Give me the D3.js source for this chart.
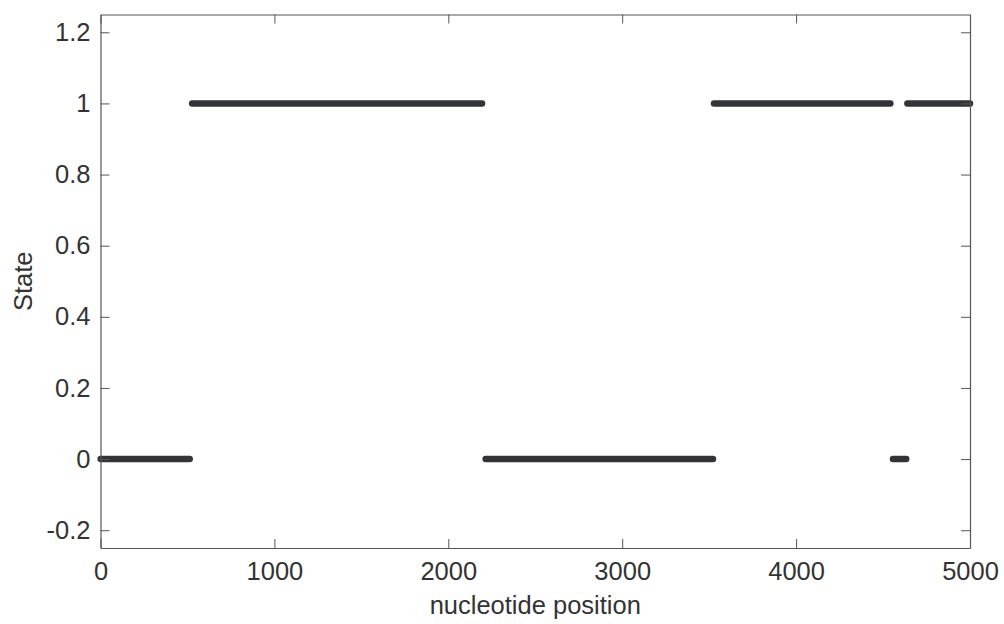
<!DOCTYPE html>
<html>
<head>
<meta charset="utf-8">
<script src="https://cdn.jsdelivr.net/npm/d3@7"></script>
<style>
  html, body { margin: 0; padding: 0; background: #ffffff; }
  svg { display: block; }
  text { font-family: "Liberation Sans", Arial, sans-serif; fill: #333; }
</style>
</head>
<body>
<svg id="chart" width="1004" height="624"></svg>
<script>
// Decoded state along the sequence: each run has a start, an end and a state.
const runStarts = [1, 527, 2215, 3528, 4557, 4640];
const runEnds   = [513, 2194, 3522, 4542, 4633, 5000];
const runStates = [0, 1, 0, 1, 0, 1];

const xTicks = [0, 1000, 2000, 3000, 4000, 5000];
const yTicks = [-0.2, 0, 0.2, 0.4, 0.6, 0.8, 1, 1.2];
const xLabel = "nucleotide position";
const yLabel = "State";

const W = 1004, H = 624;
const m = { left: 100.5, right: W - 970, top: 14.5, bottom: H - 548 };
const fontSize = 25.5;

const svg = d3.select("#chart");
const x = d3.scaleLinear().domain([0, 5000]).range([m.left, W - m.right]);
const y = d3.scaleLinear().domain([-0.25, 1.25]).range([H - m.bottom, m.top]);

const runs = runStarts.map((s, i) => ({ start: s, end: runEnds[i], state: runStates[i] }));

// Runs drawn as thick dark strokes
svg.append("g").selectAll("line").data(runs).join("line")
  .attr("x1", d => x(d.start)).attr("x2", d => x(d.end))
  .attr("y1", d => y(d.state)).attr("y2", d => y(d.state))
  .attr("stroke", "#333338").attr("stroke-width", 6.5)
  .attr("stroke-linecap", "round");

const tickLen = 9;
const axisColor = "#555";
// plain hyphen for negatives
const fmt = d => String(+d.toFixed(2));

// Frame and inward ticks on all four sides
const gx = svg.append("g").attr("transform", `translate(0,${H - m.bottom})`)
  .call(d3.axisBottom(x).tickValues(xTicks).tickSizeInner(-tickLen).tickSizeOuter(0).tickPadding(14).tickFormat(d => String(d)));
const gxTop = svg.append("g").attr("transform", `translate(0,${m.top})`)
  .call(d3.axisTop(x).tickValues(xTicks).tickSizeInner(-tickLen).tickSizeOuter(0).tickFormat(""));
const gy = svg.append("g").attr("transform", `translate(${m.left},0)`)
  .call(d3.axisLeft(y).tickValues(yTicks).tickSizeInner(-tickLen).tickSizeOuter(0).tickPadding(10).tickFormat(fmt));
const gyR = svg.append("g").attr("transform", `translate(${W - m.right},0)`)
  .call(d3.axisRight(y).tickValues(yTicks).tickSizeInner(-tickLen).tickSizeOuter(0).tickFormat(""));

[gx, gxTop, gy, gyR].forEach(g => {
  g.selectAll("path.domain").attr("stroke", axisColor).attr("stroke-width", 1.2);
  g.selectAll(".tick line").attr("stroke", axisColor).attr("stroke-width", 1);
  g.selectAll(".tick text").attr("font-size", fontSize).attr("fill", "#333")
    .style("font-family", "'Liberation Sans', Arial, sans-serif");
});
gx.selectAll(".tick text").attr("dy", "0.71em");

svg.append("text")
  .attr("x", (m.left + W - m.right) / 2).attr("y", 614)
  .attr("text-anchor", "middle").attr("font-size", fontSize)
  .text(xLabel);

svg.append("text")
  .attr("transform", `translate(32,${(m.top + H - m.bottom) / 2}) rotate(-90)`)
  .attr("text-anchor", "middle").attr("font-size", fontSize)
  .text(yLabel);
</script>
</body>
</html>
